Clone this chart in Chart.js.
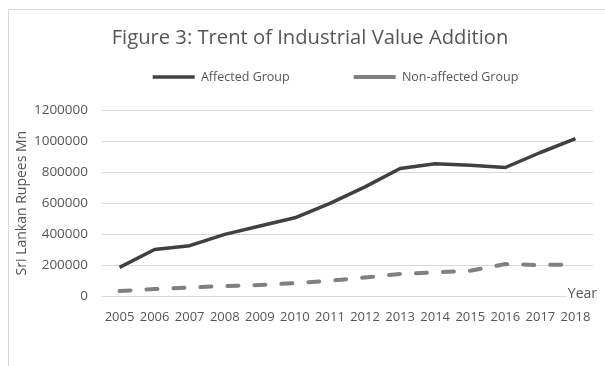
<!DOCTYPE html>
<html>
<head>
<meta charset="utf-8">
<title>Trent of Industrial Value Addition</title>
<script src="https://cdn.jsdelivr.net/npm/chart.js@4.4.1/dist/chart.umd.min.js"></script>
<style>
  html, body { margin: 0; padding: 0; background: #fff; overflow: hidden; }
  #wrap { position: relative; width: 605px; height: 366px; }
  /* thin frame of the original figure, cut off at the right and bottom */
  #frame { position: absolute; left: 8px; top: 9px; width: 700px; height: 500px; border: 1px solid #d9d9d9; }
  #chart { position: absolute; left: 0; top: 0; }
</style>
</head>
<body>
<div id="wrap">
  <div id="frame"></div>
  <canvas id="chart" width="605" height="366"></canvas>
</div>
<script>
// data (Sri Lankan Rupees Mn)
const years = ['2005', '2006', '2007', '2008', '2009', '2010', '2011', '2012', '2013', '2014', '2015', '2016', '2017', '2018'];
const affected = [185000, 300000, 325000, 398000, 452000, 505000, 598000, 705000, 824000, 855000, 845000, 830000, 927000, 1017000];
const nonAffected = [32000, 45000, 55000, 64000, 71000, 83000, 99000, 120000, 142000, 153000, 163000, 206000, 200000, 204000];
const yTicks = [0, 200000, 400000, 600000, 800000, 1000000, 1200000];

const textColor = '#565656';
Chart.defaults.font.family = "'Open Sans', sans-serif";
Chart.defaults.color = textColor;

// title and legend are not centred on the canvas in the original, move them a bit
const nudge = {
    id: 'nudge',
    afterLayout(chart) {
        const t = chart.titleBlock;
        t.left += 9.5;
        t.right += 9.5;

        const lg = chart.legend;
        lg.left += 35;
        lg.right += 35;
        const labels = lg.options.labels;
        lg.top = 77 - labels.padding - labels.font.size / 2;
    },
    afterDraw(chart) {
        // "Year" sits on the end of the zero line
        const ctx = chart.ctx;
        const y = chart.scales.y.getPixelForValue(0);
        const x = chart.chartArea.right + 4;
        ctx.save();
        ctx.font = "14px 'Open Sans'";
        const w = ctx.measureText('Year').width;
        ctx.fillStyle = '#fff';
        ctx.fillRect(x - w - 1, y - 9, w + 4, 14);
        ctx.fillStyle = textColor;
        ctx.textAlign = 'right';
        ctx.textBaseline = 'middle';
        ctx.fillText('Year', x, y - 2);
        ctx.restore();
    }
};

new Chart(document.getElementById('chart').getContext('2d'), {
    type: 'line',
    data: {
        labels: years,
        datasets: [
            {
                label: 'Affected Group',
                data: affected,
                borderColor: '#404040',
                backgroundColor: '#404040',
                borderWidth: 3.5,
                borderJoinStyle: 'round',
                pointRadius: 0,
                pointHoverRadius: 0,
                tension: 0
            },
            {
                label: 'Non-affected Group',
                data: nonAffected,
                borderColor: '#808080',
                backgroundColor: '#808080',
                borderWidth: 4,
                borderDash: [11, 16],
                borderCapStyle: 'round',
                pointRadius: 0,
                pointHoverRadius: 0,
                tension: 0
            }
        ]
    },
    options: {
        responsive: false,
        animation: false,
        layout: { padding: { top: 12, left: 8, right: 12, bottom: 41 } },
        plugins: {
            title: {
                display: true,
                text: 'Figure 3: Trent of Industrial Value Addition',
                color: textColor,
                font: { size: 20.2, weight: 'normal' },
                padding: { top: 14, bottom: 0 }
            },
            legend: {
                position: 'top',
                maxHeight: 60,
                labels: {
                    usePointStyle: true,
                    pointStyle: 'line',
                    pointStyleWidth: 42,
                    padding: 64,
                    color: textColor,
                    font: { size: 12.5 }
                }
            },
            tooltip: { enabled: false }
        },
        scales: {
            x: {
                offset: true,
                afterFit: s => { s.height = 29; },
                grid: { display: false, drawTicks: false },
                border: { display: false },
                ticks: { padding: 13, maxRotation: 0, autoSkip: false, color: textColor, font: { size: 13 } }
            },
            y: {
                min: 0,
                max: 1200000,
                afterBuildTicks: s => { s.ticks = yTicks.map(v => ({ value: v })); },
                afterFit: s => { s.width = 94; },
                border: { display: false },
                grid: { color: '#d9d9d9', drawTicks: false },
                ticks: { padding: 14, color: textColor, font: { size: 13.5 }, callback: v => String(v) },
                title: {
                    display: true,
                    text: 'Sri Lankan Rupees Mn',
                    color: textColor,
                    font: { size: 14 },
                    padding: { top: 6, bottom: 0 }
                }
            }
        }
    },
    plugins: [nudge]
});
</script>
</body>
</html>
